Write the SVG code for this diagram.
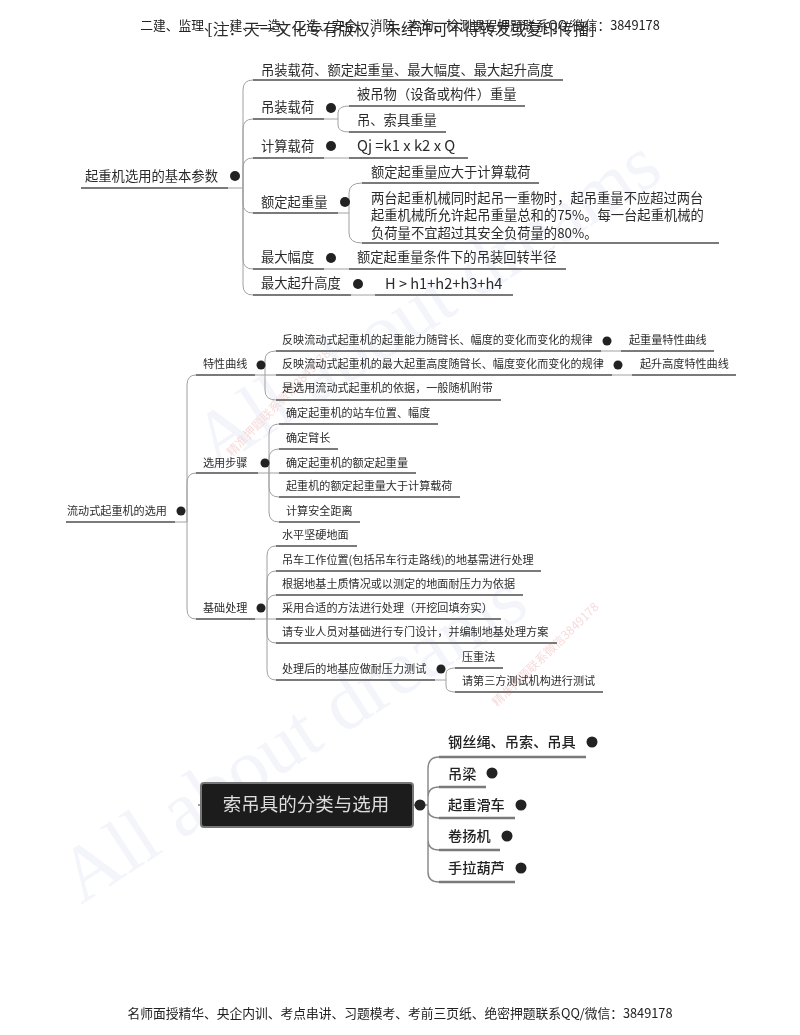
<svg xmlns="http://www.w3.org/2000/svg" width="800" height="1035" viewBox="0 0 800 1035">
<style>
text{font-family:"Noto Sans CJK SC","Noto Sans",sans-serif;fill:#2b2b2b}
.a{font-size:13.3px}.b{font-size:11.1px}.c{font-size:14.2px;fill:#222;font-weight:500}
.u{stroke:#7a7a7a;stroke-width:2;fill:none}
.l{stroke:#a0a0a0;stroke-width:1;fill:none}
.l3{stroke:#858585;stroke-width:1.4;fill:none}
.d{fill:#222}
.wm{font-family:"Liberation Serif",serif;fill:#f3f5fb;font-size:78px}
.rw{font-size:12px;fill:#f6dcdc}
.hd{font-size:12.75px;fill:#222}
</style>
<defs><filter id="soft" x="-2%" y="-2%" width="104%" height="104%"><feGaussianBlur stdDeviation="0.4"/></filter></defs>
<g id="watermarks" filter="url(#soft)">
<text class="wm" transform="translate(81,905) rotate(-33)">All about dreams</text>
<text class="wm" transform="translate(215,470) rotate(-33)">All about dreams</text>
<text class="rw" transform="translate(232,457) rotate(-46)">精准押题联系微信3849178</text>
<text class="rw" transform="translate(497,707) rotate(-44)">精准押题联系微信3849178</text>
</g>
<g filter="url(#soft)">
<g id="header"><text class="hd" x="400" y="30" text-anchor="middle">二建、监理、一建、一造、二造、安全、消防、咨询、检测课程押题联系QQ/微信：3849178</text>
<text x="401" y="35" text-anchor="middle" style="font-family:'Liberation Serif','Noto Sans CJK SC',serif;font-size:15.7px">[注：天一文化专有版权，未经许可不得转发或复印传播]</text></g>
<g id="connectors">
<path class="l" d="M228 188H243M243 188V90Q243 80 253 80M243 188V129Q243 119 253 119M243 188V168Q243 158 253 158M243 188V203Q243 213 253 213M243 188V259Q243 269 253 269M243 188V285Q243 295 253 295"/>
<path class="l" d="M324 119H338M338 119V113Q338 106 349 106M338 119V125Q338 132 349 132M324 158H349M338 213H349M349 213V193Q349 183 362 183M349 213V233Q349 243 362 243M324 269H349M351 295H375"/>
<path class="l" d="M175 522H187M187 522V385Q187 375 196 375M187 522V483Q187 473 196 473M187 522V609Q187 619 196 619"/>
<path class="l" d="M255 375H276M265 375V360Q265 351 276 351M265 375V390Q265 400 276 400M258 473H279M269 473V434Q269 424 279 424M269 473V459Q269 449 279 449M269 473V487Q269 497 279 497M269 473V512Q269 522 279 522"/>
<path class="l" d="M255 619H276M267 619V556Q267 546 276 546M267 619V581Q267 571 276 571M267 619V605Q267 595 276 595M267 619V633Q267 643 276 643M267 619V670Q267 680 276 680"/>
<path class="l" d="M601 351H621M612 375H632M435 680H446M446 680V674Q446 668 455 668M446 680V686Q446 692 455 692"/>
<path class="l3" d="M198 805H201M414 805H428M428 805V769Q428 757 439 757M428 805V797Q428 787 439 787M428 805V809Q428 818 439 818M428 805V840Q428 850 439 850M428 805V872Q428 882 439 882"/>
<path class="u" d="M253 80H563M253 119H324M349 106H525M349 132H446M253 158H324M349 158H468M253 213H338M362 183H539M362 243H719M253 269H324M349 269H566M253 295H351M375 295H513M81 188H228"/>
<path class="u" d="M276 351H601M621 351H714M276 375H612M632 375H736M276 400H501M196 375H255M279 424H438M279 449H338M279 473H416M279 497H460M279 522H360M196 473H258M66 522H175M276 546H357M276 571H541M276 595H523M276 619H501M276 643H557M276 680H435M196 619H255M455 668H503M455 692H603"/>
<path class="u" style="stroke-width:2.6" d="M439 757H586M439 787H486M439 818H515M439 850H500M439 882H515"/>
</g>
<g id="n1-root"><text class="a" x="85" y="181">起重机选用的基本参数</text><circle class="d" cx="235" cy="176" r="5"/></g>
<g id="n1-a"><text class="a" x="261" y="75">吊装载荷、额定起重量、最大幅度、最大起升高度</text></g>
<g id="n1-b"><text class="a" x="261" y="112">吊装载荷</text><circle class="d" cx="331" cy="108" r="5"/></g>
<g id="n1-b1"><text class="a" x="357" y="99">被吊物（设备或构件）重量</text></g>
<g id="n1-b2"><text class="a" x="357" y="125">吊、索具重量</text></g>
<g id="n1-c"><text class="a" x="261" y="151">计算载荷</text><circle class="d" cx="331" cy="146" r="5"/></g>
<g id="n1-c1"><text class="a" style="font-size:14.8px" x="357" y="151">Qj =k1 x k2 x Q</text></g>
<g id="n1-d"><text class="a" x="261" y="207">额定起重量</text><circle class="d" cx="345" cy="202" r="5"/></g>
<g id="n1-d1"><text class="a" x="371" y="177">额定起重量应大于计算载荷</text></g>
<g id="n1-d2"><text class="a" x="371" y="203">两台起重机械同时起吊一重物时，起吊重量不应超过两台</text><text class="a" x="371" y="220">起重机械所允许起吊重量总和的75%。每一台起重机械的</text><text class="a" x="371" y="238">负荷量不宜超过其安全负荷量的80%。</text></g>
<g id="n1-e"><text class="a" x="261" y="262">最大幅度</text><circle class="d" cx="331" cy="258" r="5"/></g>
<g id="n1-e1"><text class="a" x="357" y="262">额定起重量条件下的吊装回转半径</text></g>
<g id="n1-f"><text class="a" x="261" y="288">最大起升高度</text><circle class="d" cx="358" cy="284" r="5"/></g>
<g id="n1-f1"><text class="a" style="font-size:14.6px" x="385" y="289">H &gt; h1+h2+h3+h4</text></g>

<g id="n2-root"><text class="b" x="67" y="515">流动式起重机的选用</text><circle class="d" cx="181" cy="511" r="4.5"/></g>
<g id="n2-a"><text class="b" x="203" y="368">特性曲线</text><circle class="d" cx="261" cy="365" r="4.5"/></g>
<g id="n2-a1"><text class="b" x="282" y="344">反映流动式起重机的起重能力随臂长、幅度的变化而变化的规律</text><circle class="d" cx="607" cy="341" r="4.5"/><text class="b" x="629" y="344">起重量特性曲线</text></g>
<g id="n2-a2"><text class="b" x="282" y="368">反映流动式起重机的最大起重高度随臂长、幅度变化而变化的规律</text><circle class="d" cx="618" cy="365" r="4.5"/><text class="b" x="640" y="368">起升高度特性曲线</text></g>
<g id="n2-a3"><text class="b" x="282" y="392">是选用流动式起重机的依据，一般随机附带</text></g>
<g id="n2-b"><text class="b" x="203" y="467">选用步骤</text><circle class="d" cx="265" cy="463" r="4.5"/></g>
<g id="n2-b1"><text class="b" x="286" y="417">确定起重机的站车位置、幅度</text></g>
<g id="n2-b2"><text class="b" x="286" y="442">确定臂长</text></g>
<g id="n2-b3"><text class="b" x="286" y="467">确定起重机的额定起重量</text></g>
<g id="n2-b4"><text class="b" x="286" y="490">起重机的额定起重量大于计算载荷</text></g>
<g id="n2-b5"><text class="b" x="286" y="515">计算安全距离</text></g>
<g id="n2-c"><text class="b" x="203" y="612">基础处理</text><circle class="d" cx="261" cy="608" r="4.5"/></g>
<g id="n2-c1"><text class="b" x="282" y="539">水平坚硬地面</text></g>
<g id="n2-c2"><text class="b" x="282" y="564">吊车工作位置(包括吊车行走路线)的地基需进行处理</text></g>
<g id="n2-c3"><text class="b" x="282" y="588">根据地基土质情况或以测定的地面耐压力为依据</text></g>
<g id="n2-c4"><text class="b" x="282" y="612">采用合适的方法进行处理（开挖回填夯实）</text></g>
<g id="n2-c5"><text class="b" x="282" y="636">请专业人员对基础进行专门设计，并编制地基处理方案</text></g>
<g id="n2-c6"><text class="b" x="282" y="673">处理后的地基应做耐压力测试</text><circle class="d" cx="441" cy="669" r="4.5"/></g>
<g id="n2-c7"><text class="b" x="462" y="661">压重法</text></g>
<g id="n2-c8"><text class="b" x="462" y="685">请第三方测试机构进行测试</text></g>

<g id="n3-root"><rect x="201" y="783" width="212" height="44" rx="3" fill="#1e1e1e" stroke="#777" stroke-width="2"/><text x="306" y="811" text-anchor="middle" style="font-size:18.5px;fill:#ddd">索吊具的分类与选用</text><circle class="d" cx="420" cy="805" r="5.5"/></g>
<g id="n3-a"><text class="c" x="448" y="747">钢丝绳、吊索、吊具</text><circle class="d" cx="592" cy="742" r="5.5"/></g>
<g id="n3-b"><text class="c" x="448" y="779">吊梁</text><circle class="d" cx="492" cy="773" r="5.5"/></g>
<g id="n3-c"><text class="c" x="448" y="810">起重滑车</text><circle class="d" cx="521" cy="805" r="5.5"/></g>
<g id="n3-d"><text class="c" x="448" y="841">卷扬机</text><circle class="d" cx="507" cy="836" r="5.5"/></g>
<g id="n3-e"><text class="c" x="448" y="873">手拉葫芦</text><circle class="d" cx="521" cy="868" r="5.5"/></g>
<g id="footer"><text class="hd" x="400" y="1018" text-anchor="middle">名师面授精华、央企内训、考点串讲、习题模考、考前三页纸、绝密押题联系QQ/微信：3849178</text></g>
</g>
</svg>
